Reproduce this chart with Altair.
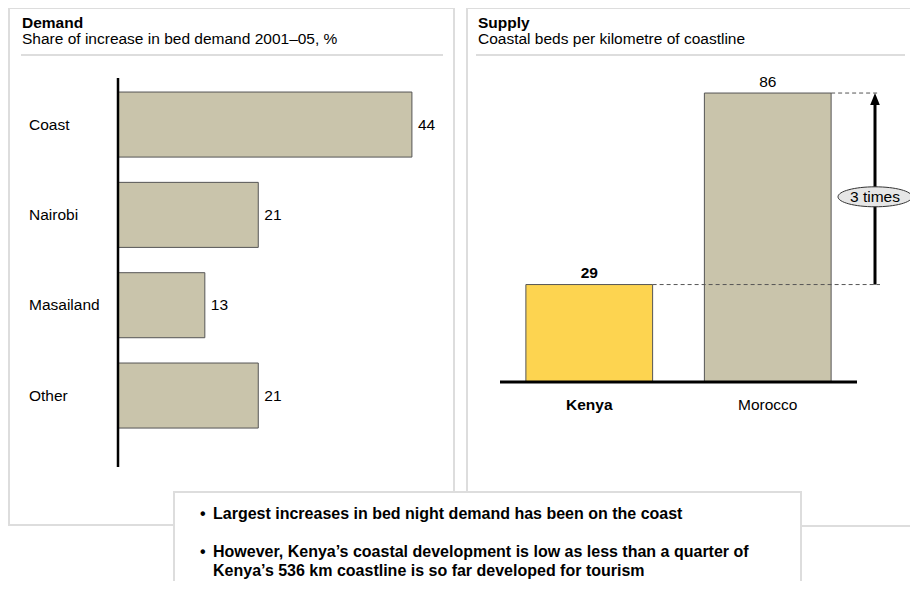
import altair as alt
import pandas as pd

# ---------------- data ----------------
demand_regions = ["Coast", "Nairobi", "Masailand", "Other"]
demand_share = [44, 21, 13, 21]

supply_countries = ["Kenya", "Morocco"]
supply_beds = [29, 86]
ratio_label = "3 times"

notes = [
    "Largest increases in bed night demand has been on the coast",
    "However, Kenya\u2019s coastal development is low as less than a quarter of\nKenya\u2019s 536 km coastline is so far developed for tourism",
]

demand_df = pd.DataFrame({"region": demand_regions, "share": demand_share})
supply_df = pd.DataFrame({"country": supply_countries, "beds": supply_beds})
arrow_df = pd.DataFrame({
    "lo": [supply_beds[0]],
    "hi": [supply_beds[1]],
    "mid": [(supply_beds[0] + supply_beds[1]) / 2],
    "label": [ratio_label],
})
notes_df = pd.DataFrame({"i": list(range(len(notes))), "note": notes})

# ---------------- styles ----------------
FONT = "Liberation Sans"
FS = 15.5
BEIGE = "#C9C4AB"
YELLOW = "#FDD450"
EDGE = "#555555"
FRAME = "#DDDDDD"

one = alt.Data(values=[{}])


def box(x, x2, y, y2, **kw):
    return alt.Chart(one).mark_rect(**kw).encode(
        x=alt.value(x), x2=alt.value(x2), y=alt.value(y), y2=alt.value(y2)
    )


def hline(x, x2, y, **kw):
    return alt.Chart(one).mark_rule(**kw).encode(
        x=alt.value(x), x2=alt.value(x2), y=alt.value(y)
    )


def label(text, x, y, **kw):
    return alt.Chart(one).mark_text(text=text, align="left", baseline="middle", **kw).encode(
        x=alt.value(x), y=alt.value(y)
    )


# ---------------- frames & titles ----------------
frames = [
    box(1, 446, 0, 517, fill="white", stroke=FRAME, strokeWidth=2),
    box(459, 915, 0, 518, fill="white", stroke=FRAME, strokeWidth=2),
    label("Demand", 14, 15, fontSize=FS, fontWeight="bold"),
    label("Share of increase in bed demand 2001\u201305, %", 14, 31, fontSize=FS),
    hline(13, 435, 47, color=FRAME, strokeWidth=2),
    label("Supply", 470, 15, fontSize=FS, fontWeight="bold"),
    label("Coastal beds per kilometre of coastline", 470, 31, fontSize=FS),
    hline(468, 897, 47, color=FRAME, strokeWidth=2),
]

# ---------------- left panel: demand ----------------
xs_l = alt.Scale(domain=[0, 50], range=[110, 444])
ys_l = alt.Scale(domain=demand_regions, range=[71.4, 432.7], paddingInner=0.28, paddingOuter=0.14)

base_l = alt.Chart(demand_df)
bars_l = base_l.mark_bar(fill=BEIGE, stroke=EDGE, strokeWidth=1).encode(
    x=alt.X("share:Q", scale=xs_l, axis=None),
    y=alt.Y("region:N", scale=ys_l, axis=None, sort=demand_regions),
)
vals_l = base_l.mark_text(align="left", baseline="middle", dx=6, fontSize=FS).encode(
    x=alt.X("share:Q"), y=alt.Y("region:N", sort=demand_regions), text="share:Q"
)
cats_l = base_l.mark_text(align="left", baseline="middle", fontSize=FS).encode(
    x=alt.value(21), y=alt.Y("region:N", sort=demand_regions), text="region:N"
)
axis_l = alt.Chart(one).mark_rule(color="black", strokeWidth=2.5).encode(
    x=alt.datum(0), y=alt.value(70), y2=alt.value(459)
)
left = alt.layer(bars_l, vals_l, cats_l, axis_l)

# ---------------- right panel: supply ----------------
xs_r = alt.Scale(domain=supply_countries, range=[492, 849], paddingInner=0.29, paddingOuter=0.145)
ys_r = alt.Scale(domain=[0, 100], range=[374, 38])

base_r = alt.Chart(supply_df)
bars_r = base_r.mark_bar(stroke=EDGE, strokeWidth=1).encode(
    x=alt.X("country:N", scale=xs_r, axis=None, sort=supply_countries),
    y=alt.Y("beds:Q", scale=ys_r, axis=None),
    fill=alt.condition(alt.datum.country == "Kenya", alt.value(YELLOW), alt.value(BEIGE)),
)
dash_r = base_r.mark_rule(color=EDGE, strokeWidth=1, strokeDash=[4, 3]).encode(
    x=alt.X("country:N", bandPosition=1, sort=supply_countries),
    x2=alt.value(872),
    y="beds:Q",
)
base_line = alt.Chart(one).mark_rule(color="black", strokeWidth=3).encode(
    x=alt.value(492), x2=alt.value(849), y=alt.datum(0)
)
val_kenya = base_r.mark_text(baseline="alphabetic", dy=-7, fontSize=FS, fontWeight="bold").encode(
    x=alt.X("country:N", sort=supply_countries), y="beds:Q", text="beds:Q"
).transform_filter(alt.datum.country == "Kenya")
val_other = base_r.mark_text(baseline="alphabetic", dy=-6, fontSize=FS).encode(
    x=alt.X("country:N", sort=supply_countries), y="beds:Q", text="beds:Q"
).transform_filter(alt.datum.country != "Kenya")
cat_kenya = base_r.mark_text(baseline="middle", dy=23, fontSize=FS, fontWeight="bold").encode(
    x=alt.X("country:N", sort=supply_countries), y=alt.datum(0), text="country:N"
).transform_filter(alt.datum.country == "Kenya")
cat_other = base_r.mark_text(baseline="middle", dy=23, fontSize=FS).encode(
    x=alt.X("country:N", sort=supply_countries), y=alt.datum(0), text="country:N"
).transform_filter(alt.datum.country != "Kenya")

base_a = alt.Chart(arrow_df)
arrow_line = base_a.mark_rule(color="black", strokeWidth=3, y2Offset=10).encode(
    x=alt.value(867), y="lo:Q", y2="hi:Q"
)
arrow_head = base_a.mark_point(
    shape="M0,0L0.8,2L-0.8,2Z", size=144, filled=True, color="black", opacity=1
).encode(x=alt.value(867), y="hi:Q")
ELLIPSE = ("M-1,0C-1,-0.15 -0.552,-0.27 0,-0.27C0.552,-0.27 1,-0.15 1,0"
           "C1,0.15 0.552,0.27 0,0.27C-0.552,0.27 -1,0.15 -1,0Z")
ellipse = base_a.mark_point(
    shape=ELLIPSE, size=5476, filled=True, fill="#E6E6E6", stroke="#333333",
    strokeWidth=1, opacity=1, yOffset=8
).encode(x=alt.value(867), y="mid:Q")
ellipse_txt = base_a.mark_text(fontSize=FS, baseline="middle", yOffset=8).encode(
    x=alt.value(867), y="mid:Q", text="label:N"
)

right = alt.layer(bars_r, base_line, dash_r, val_kenya, val_other, cat_kenya, cat_other,
                  arrow_line, arrow_head, ellipse, ellipse_txt)

# ---------------- bottom note box ----------------
note_box = box(166, 793, 484, 620, fill="white", stroke=FRAME, strokeWidth=2)
ys_n = alt.Scale(domain=list(range(len(notes))), range=[497.5, 535.5], padding=0)
base_n = alt.Chart(notes_df)
bullets = base_n.mark_text(align="left", baseline="top", fontSize=16, fontWeight="bold").encode(
    x=alt.value(192), y=alt.Y("i:O", scale=ys_n, axis=None), text=alt.value("\u2022")
)
note_txt = base_n.mark_text(align="left", baseline="top", fontSize=16, fontWeight="bold",
                            lineBreak="\n", lineHeight=19).encode(
    x=alt.value(205), y=alt.Y("i:O", axis=None), text="note:N"
)
notes_layer = alt.layer(bullets, note_txt)

chart = alt.layer(
    *frames, left, right, note_box, notes_layer
).resolve_scale(
    x="independent", y="independent"
).properties(
    width=902, height=573, padding=0,
    autosize=alt.AutoSizeParams(type="none"),
    background="white",
).configure_view(stroke=None).configure_text(font=FONT, color="black")

chart.save("out.html", embed_options={"renderer": "svg", "actions": False})
